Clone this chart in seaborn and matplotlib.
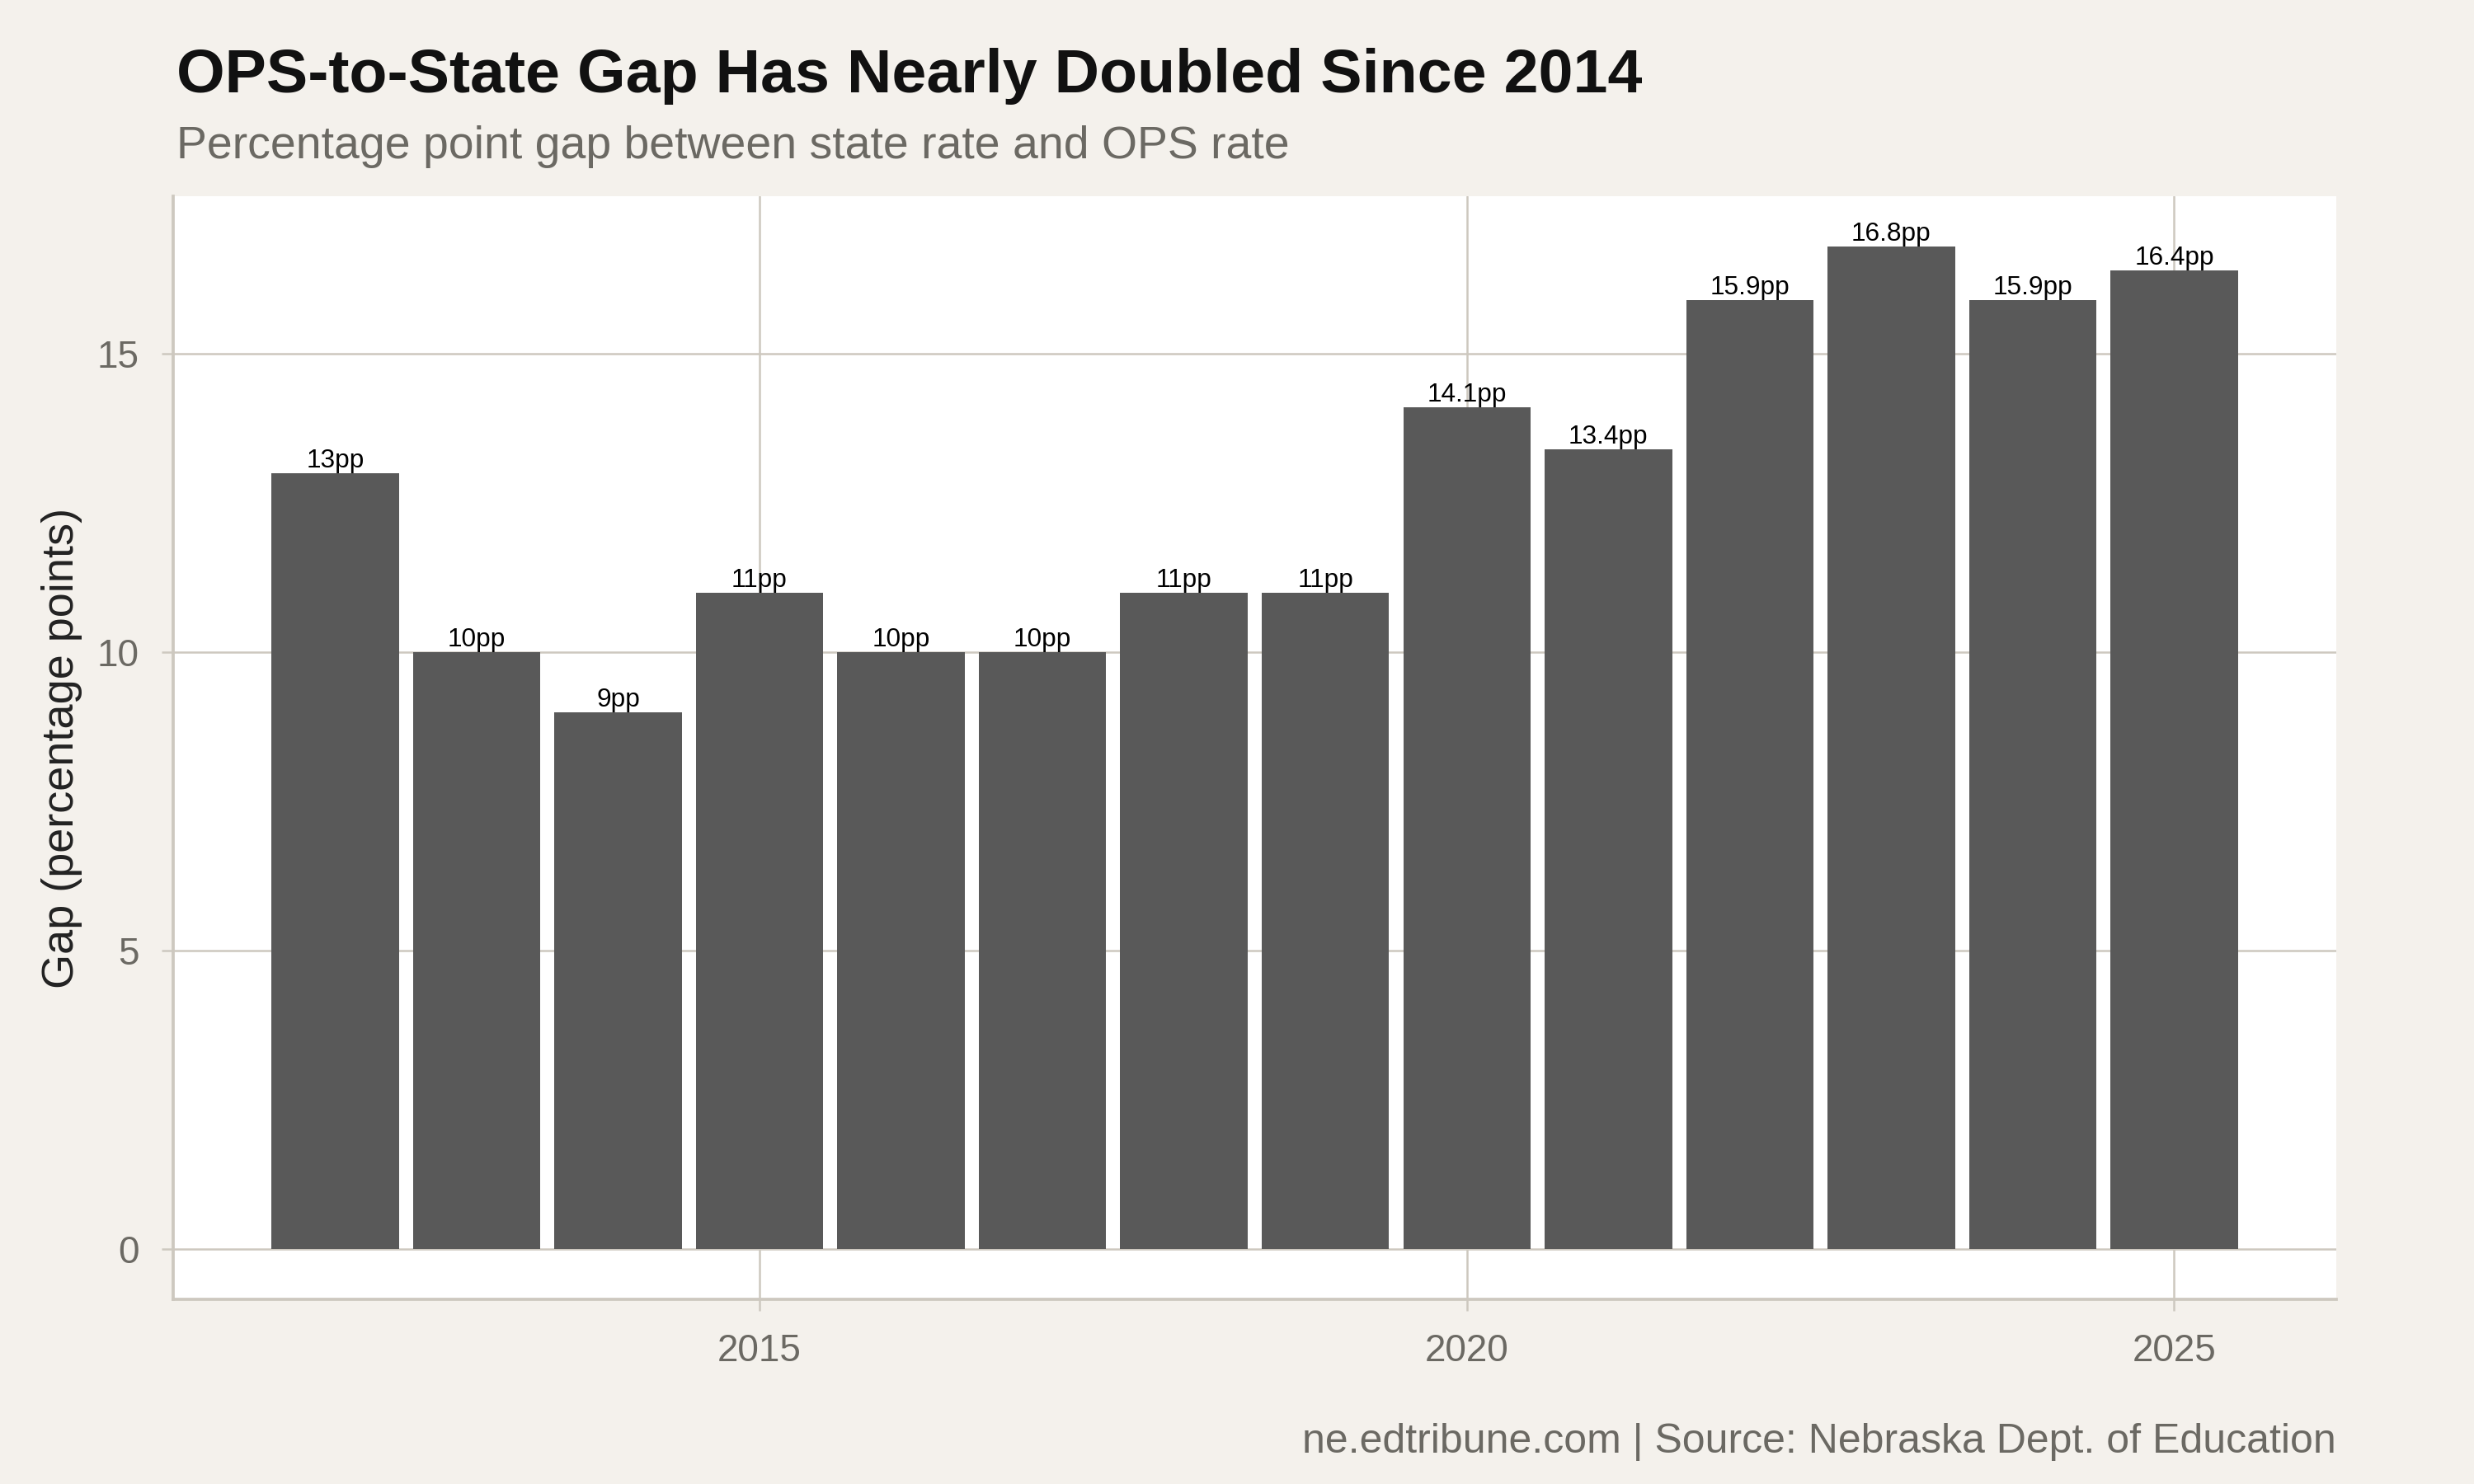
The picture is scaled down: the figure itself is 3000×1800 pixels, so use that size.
import numpy as np
import pandas as pd
import seaborn as sns
import matplotlib.pyplot as plt

years = [2012, 2013, 2014, 2015, 2016, 2017, 2018, 2019, 2020, 2021, 2022, 2023, 2024, 2025]
gap = [13, 10, 9, 11, 10, 10, 11, 11, 14.1, 13.4, 15.9, 16.8, 15.9, 16.4]
x_ticks = [2015, 2020, 2025]
y_ticks = [0, 5, 10, 15]

title = 'OPS-to-State Gap Has Nearly Doubled Since 2014'
subtitle = 'Percentage point gap between state rate and OPS rate'
caption = 'ne.edtribune.com | Source: Nebraska Dept. of Education'

df = pd.DataFrame({'year': years, 'gap': gap})

bg = '#f4f1ec'
line_col = '#cdc8bf'
grey_txt = '#6b6963'

sns.set_style('white')
plt.rcParams['font.family'] = ['Liberation Sans', 'DejaVu Sans']

fig = plt.figure(figsize=(10, 6), dpi=300, facecolor=bg)
ax = fig.add_axes([0.07, 0.1244, 0.8743, 0.7434])
ax.set_facecolor('white')

sns.barplot(data=df, x='year', y='gap', native_scale=True, width=0.9,
            color='#595959', saturation=1, linewidth=0, ax=ax, zorder=3)

labels = [f'{v:g}pp' for v in df['gap']]
ax.bar_label(ax.containers[0], labels=labels, padding=0, fontsize=7.6, color='black')

ax.set_xlim(2010.855, 2026.145)
ax.set_ylim(-0.84, 17.64)
ax.set_xticks(x_ticks)
ax.set_yticks(y_ticks)

ax.grid(True, color=line_col, linewidth=0.6, zorder=0)
ax.set_axisbelow(True)

for side in ['top', 'right']:
    ax.spines[side].set_visible(False)
for side in ['left', 'bottom']:
    ax.spines[side].set_visible(True)
    ax.spines[side].set_color(line_col)
    ax.spines[side].set_linewidth(0.9)

ax.tick_params(axis='both', length=3.4, width=0.6, color=line_col,
               labelcolor=grey_txt, labelsize=11, pad=6.5, left=True, bottom=True)

ax.set_xlabel('')
ax.set_ylabel('Gap (percentage points)', fontsize=13, color='#222222')
ax.yaxis.set_label_coords(-0.042, 0.5)

fig.text(0.0713, 0.9378, title, fontsize=18.1, fontweight='bold', color='#111111', va='baseline')
fig.text(0.0713, 0.8933, subtitle, fontsize=13.3, color=grey_txt, va='baseline')
fig.text(0.9443, 0.0211, caption, fontsize=12, color=grey_txt, ha='right', va='baseline')

fig.savefig('out.png', dpi=300, facecolor=bg)
